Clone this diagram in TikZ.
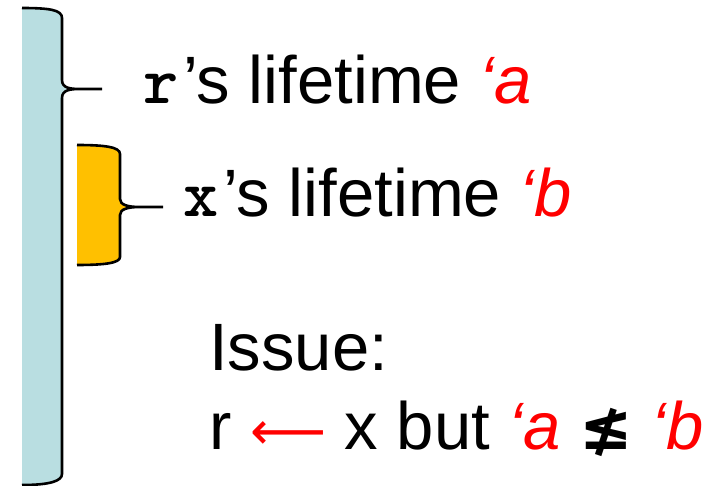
\documentclass[tikz,border=0pt]{standalone}
\usepackage{fontspec}
\setmainfont{Liberation Sans}
\newfontfamily\symfont{DejaVu Sans}
\newfontfamily\courfont{Latin Modern Mono Light}
\definecolor{lifeblue}{RGB}{185,222,225}
\definecolor{lifeorange}{RGB}{255,192,0}
\definecolor{lred}{RGB}{255,0,0}
\tikzset{
  lbl/.style={anchor=base west, inner sep=0pt, font=\fontsize{67}{80}\selectfont},
  braceline/.style={line width=2.6pt, black, line join=round},
}
\newcommand{\cw}[1]{\makebox[40pt][l]{\courfont\bfseries #1}}
\newcommand{\lt}[1]{\textcolor{lred}{\itshape #1}}
\begin{document}
\begin{tikzpicture}[x=1pt,y=-1pt]
\useasboundingbox (0,0) rectangle (721,486);
% blue lifetime
\fill[lifeblue] (22,8) .. controls (50,8) and (62,10) .. (62,18) -- (62,80)
  .. controls (62,88) and (70,89) .. (80,89) -- (102,89) -- (80,89)
  .. controls (70,89) and (62,90) .. (62,98) -- (62,474)
  .. controls (62,481) and (50,485) .. (22,485) -- cycle;
\draw[braceline] (22,8) .. controls (50,8) and (62,10) .. (62,18) -- (62,80)
  .. controls (62,88) and (70,89) .. (80,89) -- (102,89)
  (80,89) .. controls (70,89) and (62,90) .. (62,98) -- (62,474)
  .. controls (62,481) and (50,485) .. (22,485);
% orange lifetime
\fill[lifeorange] (77,145) .. controls (105,145) and (120,147) .. (120,154) -- (120,199)
  .. controls (120,205) and (128,207) .. (140,207) -- (163,207) -- (140,207)
  .. controls (128,207) and (120,209) .. (120,215) -- (120,257)
  .. controls (120,263) and (105,265) .. (77,265) -- cycle;
\draw[braceline] (77,145) .. controls (105,145) and (120,147) .. (120,154) -- (120,199)
  .. controls (120,205) and (128,207) .. (140,207) -- (163,207)
  (140,207) .. controls (128,207) and (120,209) .. (120,215) -- (120,257)
  .. controls (120,263) and (105,265) .. (77,265);
% labels
\node[lbl] (rlife) at (143,104) {\cw{r}’s lifetime \lt{‘a}};
\node[lbl] (xlife) at (183,217) {\cw{x}’s lifetime \lt{‘b}};
\node[lbl] (issue) at (209,371) {Issue:};
\node[lbl] (issue2) at (209,450) {r \textcolor{lred}{{\symfont\fontsize{53}{60}\selectfont ⟵}} x but \lt{‘a} {\symfont\bfseries\fontsize{64}{70}\selectfont ≰} \lt{‘b}};
\end{tikzpicture}
\end{document}
